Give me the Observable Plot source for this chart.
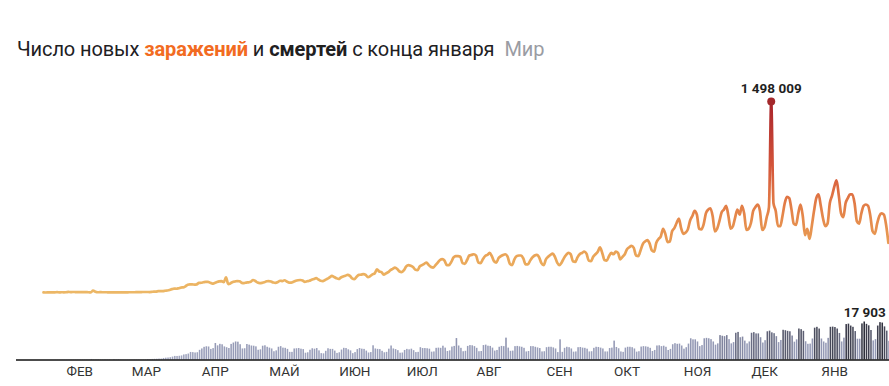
<!DOCTYPE html>
<html><head><meta charset="utf-8">
<script src="https://cdn.jsdelivr.net/npm/d3@7"></script>
<script src="https://cdn.jsdelivr.net/npm/@observablehq/plot@0.6"></script>
<style>
body{margin:0;background:#fff;}
#wrap{position:relative;width:889px;height:386px;overflow:hidden;font-family:Roboto,"Noto Sans",sans-serif;}
#title{position:absolute;left:17px;top:37px;font-size:20px;color:#21201f;white-space:nowrap;letter-spacing:-0.1px;}
#title .inf{color:#f26b21;font-weight:bold;}
#title .dth{color:#21201f;font-weight:bold;}
#title .reg{color:#9a9ca3;margin-left:10px;}
#topc{position:absolute;left:0;top:0;}
#bottomc{position:absolute;left:0;top:300px;}
</style></head>
<body>
<div id="wrap">
  <div id="topc"></div>
  <div id="bottomc"></div>
  <div id="title">Число новых <span class="inf">заражений</span> и <span class="dth">смертей</span> с конца января<span class="reg">Мир</span></div>
</div>
<script>
// first day of the series
const startDate = "2020-01-22";

// daily new infections, thousands (Jan 22 2020 .. Jan 31 2021)
const newCases = [
  0.6, 0.1, 0.3, 0.5,
  0.7, 0.8, 2.7, 0.6, 2.1, 1.7, 2.1,
  4.7, 3.1, 4.0, 3.7, 3.2, 3.4, 2.7,
  3.0, 2.5, 2.0, 0.4, 15.1, 6.5, 2.1,
  2.2, 2.1, 1.9, 1.9, 0.6, 1.0, 1.0,
  0.6, 0.6, 0.9, 0.8, 1.1, 1.4, 1.8,
  2.0, 1.8, 2.5, 2.2, 2.7, 3.9, 4.0,
  3.9, 3.7, 4.6, 7.2, 7.5, 10.8, 10.9,
  11.1, 14.0, 15.6, 20.0, 26.5, 31.1, 29.5,
  33.5, 38.9, 40.1, 48.6, 61.0, 63.8, 63.6,
  61.5, 64.0, 75.5, 76.7, 80.4, 83.3, 83.5,
  76.3, 69.9, 75.2, 82.1, 87.3, 89.5, 81.2,
  118, 66, 72, 83, 86, 90, 88,
  76, 74, 78, 80, 84, 98, 90,
  78, 74, 76, 80, 88, 90, 86,
  78, 76, 82, 92, 90, 96, 86,
  78, 78, 84, 92, 96, 98, 94,
  84, 88, 92, 100, 106, 112, 102,
  92, 90, 98, 108, 118, 130, 122,
  112, 106, 118, 126, 132, 138, 130,
  110, 104, 124, 138, 140, 144, 138,
  120, 128, 142, 150, 182, 165, 160,
  140, 150, 160, 175, 185, 195, 185,
  165, 160, 175, 205, 215, 210, 200,
  180, 175, 205, 215, 225, 235, 215,
  200, 195, 215, 235, 255, 262, 250,
  215, 215, 240, 275, 285, 285, 280,
  230, 225, 255, 290, 295, 300, 290,
  235, 230, 260, 285, 295, 310, 285,
  245, 235, 270, 285, 295, 300, 280,
  225, 215, 260, 285, 290, 290, 265,
  220, 220, 250, 275, 290, 295, 275,
  230, 215, 260, 280, 295, 305, 280,
  235, 215, 235, 270, 295, 310, 300,
  245, 240, 275, 300, 310, 320, 305,
  250, 245, 280, 300, 320, 355, 310,
  255, 250, 285, 310, 300, 320, 310,
  260, 280, 300, 340, 355, 365, 350,
  290, 285, 330, 380, 400, 410, 385,
  330, 320, 390, 420, 440, 500, 460,
  395, 400, 480, 505, 545, 580, 505,
  460, 470, 495, 565, 600, 640, 610,
  500, 495, 535, 620, 650, 660, 600,
  480, 500, 560, 630, 650, 680, 600,
  500, 520, 590, 650, 610, 680, 620,
  490, 500, 545, 640, 670, 690, 640,
  490, 510, 590, 670, 1498.009, 700, 640,
  520, 520, 600, 700, 750, 740, 650,
  540, 530, 620, 690, 600, 450, 500,
  420, 520, 640, 740, 770, 680, 580,
  520, 540, 700, 760, 830, 880, 760,
  620, 590, 700, 740, 770, 770, 700,
  560, 540, 620, 680, 690, 680, 600,
  480, 460, 540, 600, 620, 610, 530,
  390
];

// daily new deaths, thousands
const newDeaths = [
  0.017, 0.001, 0.008, 0.016,
  0.014, 0.026, 0.026, 0.038, 0.043, 0.046, 0.045,
  0.058, 0.064, 0.066, 0.072, 0.073, 0.086, 0.089,
  0.097, 0.108, 0.097, 0.254, 0.121, 0.143, 0.142,
  0.106, 0.098, 0.139, 0.115, 0.125, 0.011, 0.207,
  0.097, 0.160, 0.077, 0.063, 0.044, 0.058, 0.069,
  0.055, 0.089, 0.082, 0.082, 0.098, 0.102, 0.104,
  0.228, 0.211, 0.271, 0.327, 0.354, 0.442, 0.431,
  0.729, 0.857, 0.947, 1.09, 1.39, 1.69, 1.67,
  1.76, 1.92, 2.38, 2.53, 2.81, 3.56, 3.48,
  3.31, 3.43, 4.56, 5.21, 5.98, 6.23, 6.13,
  4.99, 5.37, 7.78, 6.66, 7.39, 7.17, 6.17,
  5.79, 5.41, 7.35, 8.0, 8.5, 8.4, 7.2,
  5.2, 5.3, 7.3, 7.0, 6.6, 6.5, 6.2,
  4.6, 4.8, 6.5, 6.7, 6.0, 5.6, 5.2,
  3.9, 4.3, 6.0, 6.3, 5.6, 5.5, 5.0,
  3.6, 3.6, 5.2, 5.3, 5.4, 5.1, 4.9,
  3.2, 3.4, 4.6, 5.3, 5.1, 5.4, 4.3,
  3.0, 2.9, 4.1, 5.3, 5.0, 5.0, 4.2,
  3.1, 3.4, 4.7, 5.5, 5.4, 4.8, 4.3,
  3.0, 3.5, 4.9, 5.4, 5.1, 5.0, 4.2,
  3.3, 3.5, 6.7, 5.2, 5.0, 4.9, 4.1,
  3.4, 3.6, 5.1, 6.6, 5.2, 4.9, 4.4,
  3.2, 3.3, 4.5, 5.0, 4.8, 5.1, 4.4,
  3.5, 3.6, 5.8, 5.4, 5.4, 5.3, 5.1,
  3.7, 3.8, 5.5, 5.6, 5.5, 6.5, 5.6,
  4.0, 4.3, 6.1, 6.4, 10.1, 6.6, 5.5,
  3.9, 4.1, 6.4, 6.8, 6.7, 6.3, 5.5,
  3.9, 4.0, 6.8, 7.0, 6.5, 6.4, 5.6,
  4.2, 4.5, 6.0, 6.4, 6.3, 10.3, 5.6,
  4.1, 4.2, 6.3, 6.4, 6.2, 6.0, 5.5,
  3.8, 4.0, 6.3, 6.3, 6.0, 5.7, 5.4,
  3.8, 3.9, 5.8, 6.0, 6.0, 5.7, 5.2,
  3.5, 9.5, 3.6, 5.5, 6.0, 5.8, 5.2,
  3.7, 3.8, 5.8, 5.9, 5.6, 5.5, 5.1,
  3.8, 3.9, 5.5, 6.0, 5.9, 5.6, 5.2,
  3.8, 3.8, 5.4, 5.6, 8.9, 5.9, 5.3,
  3.8, 3.6, 5.6, 6.0, 6.0, 5.8, 5.2,
  3.7, 3.9, 6.1, 6.3, 6.2, 6.0, 5.5,
  4.0, 4.5, 6.6, 6.7, 6.3, 6.5, 6.0,
  4.5, 5.0, 7.2, 7.7, 7.4, 7.5, 6.6,
  5.1, 5.8, 7.5, 10.0, 9.5, 9.5, 8.5,
  6.3, 6.8, 10.0, 10.2, 10.0, 9.6, 8.5,
  7.0, 7.6, 11.5, 11.2, 11.0, 11.5, 9.6,
  7.6, 8.2, 12.6, 13.0, 10.5, 10.8, 8.9,
  7.6, 8.5, 12.6, 12.9, 12.3, 12.3, 10.5,
  8.0, 9.1, 13.3, 13.6, 12.8, 12.4, 11.0,
  8.2, 9.2, 14.0, 13.8, 13.5, 13.3, 11.3,
  8.4, 9.5, 14.6, 14.3, 13.5, 8.6, 7.4,
  7.5, 9.9, 15.0, 15.4, 14.6, 9.9, 8.5,
  7.9, 10.2, 15.4, 15.5, 15.3, 14.6, 12.5,
  8.5, 10.3, 16.7, 16.9, 16.0, 15.4, 13.4,
  9.8, 9.8, 17.0, 17.903, 16.8, 16.1, 13.9,
  9.0, 9.6, 16.0, 17.6, 17.4, 15.6, 13.6,
  8.8
];

// month tick labels and their dates
const monthLabels = ["ФЕВ","МАР","АПР","МАЙ","ИЮН","ИЮЛ","АВГ","СЕН","ОКТ","НОЯ","ДЕК","ЯНВ"];
const monthStarts = ["2020-02-01","2020-03-01","2020-04-01","2020-05-01","2020-06-01","2020-07-01",
                     "2020-08-01","2020-09-01","2020-10-01","2020-11-01","2020-12-01","2021-01-01"];

const t0 = new Date(startDate);
const rows = newCases.map((c, i) => ({date: d3.utcDay.offset(t0, i), cases: c, deaths: newDeaths[i]}));
const months = monthStarts.map((d, i) => ({date: new Date(d), label: monthLabels[i]}));
const fmt = d3.formatLocale({decimal: ",", thousands: "\u00a0", grouping: [3]}).format(",d");

const xDomain = [t0, new Date("2021-01-31T12:00:00Z")];
const peakCase = rows.reduce((a, b) => (b.cases > a.cases ? b : a));
const peakDeath = rows.reduce((a, b) => (b.deaths > a.deaths ? b : a));
const font = 'Roboto, "Noto Sans", sans-serif';

const topChart = Plot.plot({
  width: 889, height: 300,
  marginLeft: 43, marginRight: 0, marginTop: 101, marginBottom: 8,
  style: {fontFamily: font, background: "transparent", overflow: "visible"},
  x: {domain: xDomain, axis: null},
  y: {domain: [0, peakCase.cases], axis: null},
  marks: [
    Plot.line(rows, {x: "date", y: "cases", curve: "monotone-x", stroke: "#e8984f", strokeWidth: 2.7, strokeLinejoin: "round"}),
    Plot.dot([peakCase], {x: "date", y: "cases", r: 4, fill: "#a3282b", stroke: "none"}),
    Plot.text([peakCase], {x: "date", y: "cases", text: d => fmt(Math.round(d.cases * 1000)), dy: -13,
      fontSize: 13.5, fontWeight: "bold", fill: "#1f1f1f"})
  ]
});
// vertical colour gradient for the infections line
const gsvg = d3.select(topChart);
const grad = gsvg.insert("defs", ":first-child").append("linearGradient")
  .attr("id", "caseGrad").attr("x1", 0).attr("x2", 0).attr("y1", 0).attr("y2", 1);
[[0, "#a8222a"], [0.33, "#d3543a"], [0.47, "#de6f42"], [0.6, "#e5884b"], [0.77, "#e9a055"], [0.9, "#ebb05f"], [1, "#ecb766"]]
  .forEach(([o, c]) => grad.append("stop").attr("offset", o).attr("stop-color", c));
gsvg.selectAll('g[aria-label="line"] path').attr("stroke", "url(#caseGrad)");
document.getElementById("topc").append(topChart);

const bottomChart = Plot.plot({
  width: 889, height: 86,
  marginLeft: 43, marginRight: 0, marginTop: 21.5, marginBottom: 26.5,
  style: {fontFamily: font, background: "transparent", overflow: "visible"},
  x: {domain: xDomain, axis: null},
  y: {domain: [0, peakDeath.deaths], axis: null},
  color: {type: "linear", domain: [0, 10, 14, 17.903], range: ["#a3a8c2", "#9297b3", "#55576a", "#2c2d39"]},
  marks: [
    Plot.rectY(rows, {x: "date", interval: d3.utcDay, y: "deaths", fill: "deaths", insetLeft: 0.35, insetRight: 0.35}),
    Plot.ruleY([0], {x1: new Date("2020-01-10"), x2: new Date("2021-02-05"), stroke: "#111", strokeWidth: 1.6}),
    Plot.text(months, {x: "date", text: "label", frameAnchor: "bottom", dy: 16, dx: 0.5, textAnchor: "start",
      fontSize: 13.5, fill: "#333"}),
    Plot.text([peakDeath], {x: d => d3.utcHour.offset(d.date, 12), y: "deaths", text: d => fmt(Math.round(d.deaths * 1000)),
      dy: -9, fontSize: 13.5, fontWeight: "bold", fill: "#1f1f1f"})
  ]
});
document.getElementById("bottomc").append(bottomChart);
</script>
</body></html>
